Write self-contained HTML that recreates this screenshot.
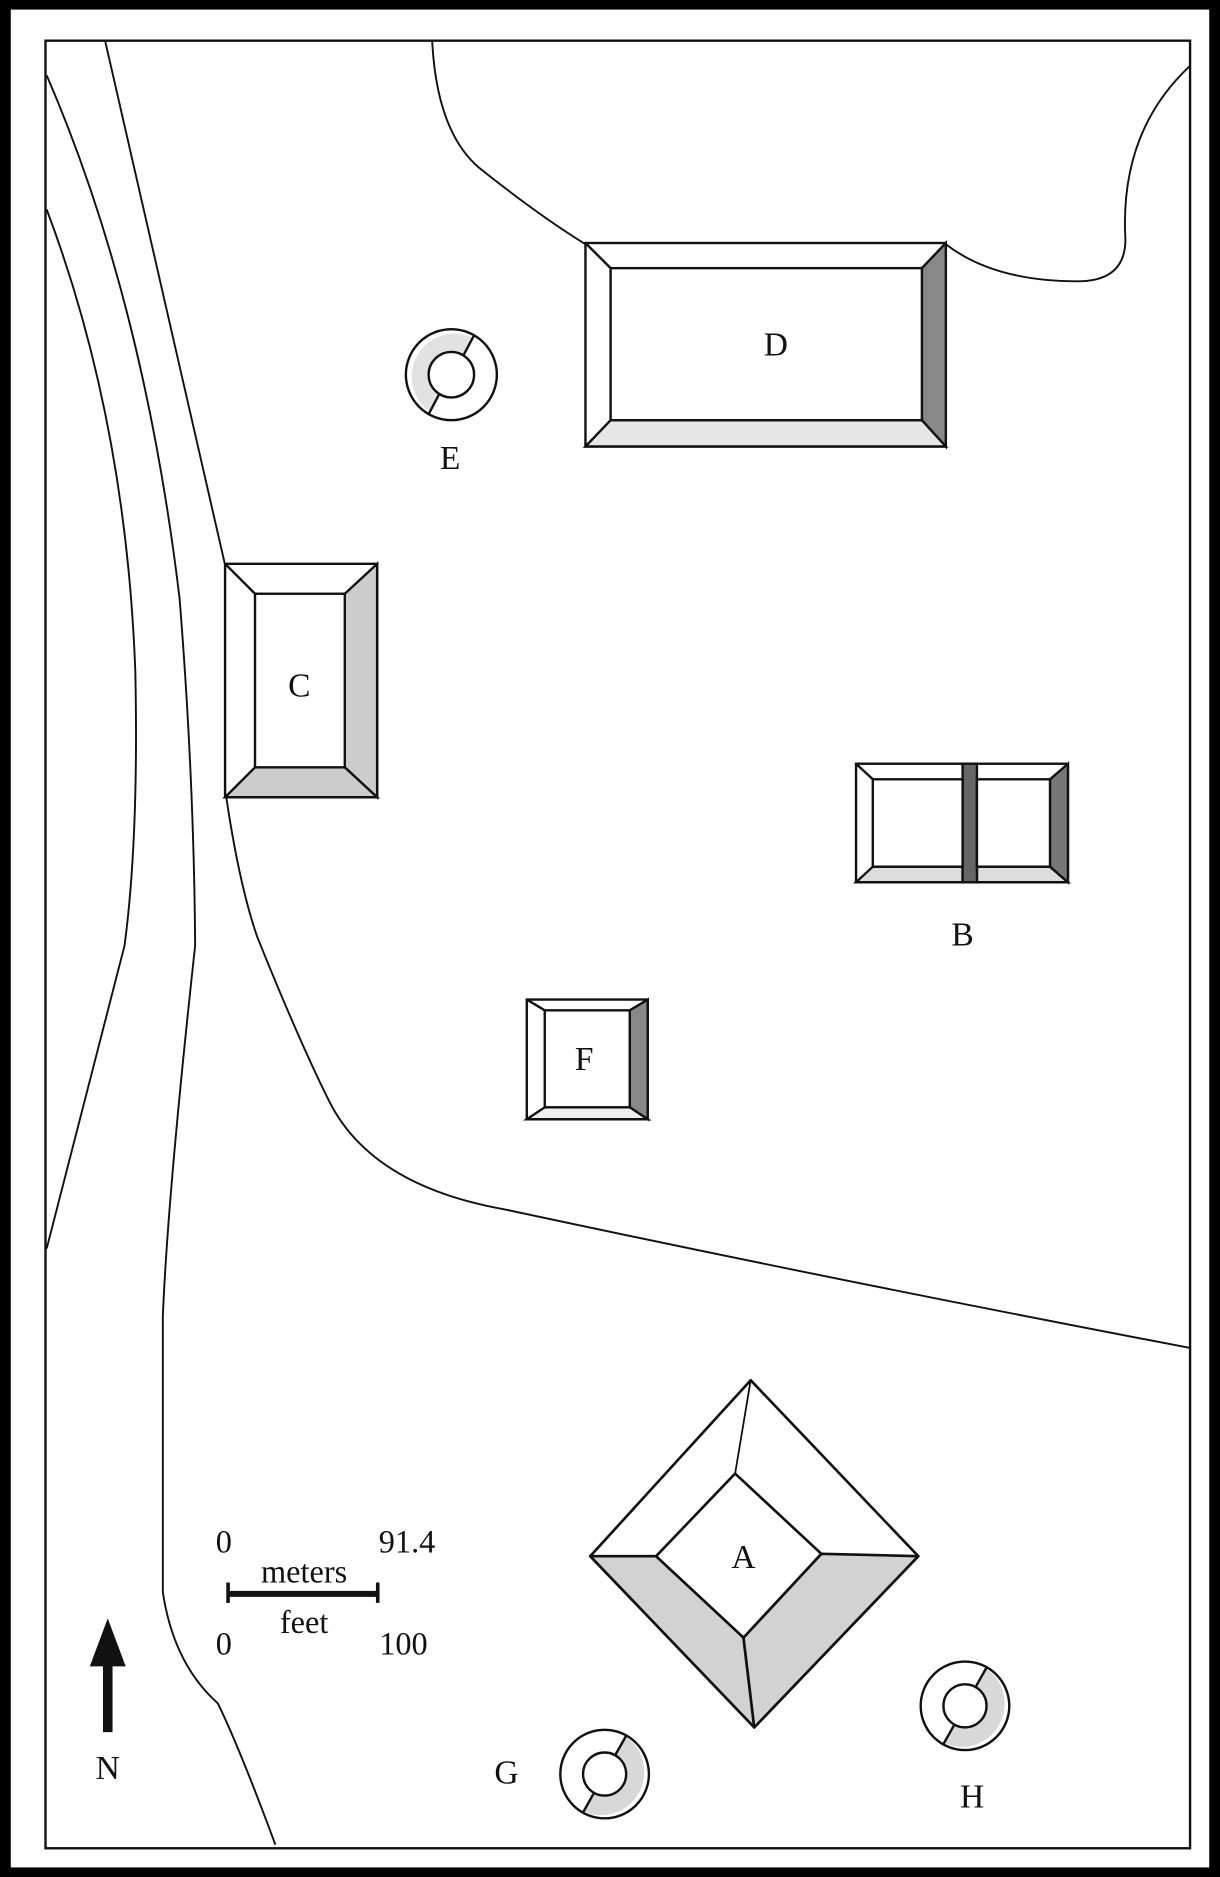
<!DOCTYPE html>
<html><head><meta charset="utf-8"><style>
html,body{margin:0;padding:0;background:#000;}
svg{display:block;}
text{font-family:"Liberation Serif",serif;fill:#111;}
</style></head><body>
<svg width="1220" height="1877" viewBox="0 0 1019 1568" preserveAspectRatio="none" xmlns="http://www.w3.org/2000/svg">
<rect x="0" y="0" width="1019" height="1568" fill="#000"/>
<rect x="9" y="8" width="1001" height="1552" fill="#fff"/>
<rect x="38" y="34" width="956" height="1510" fill="none" stroke="#111" stroke-width="2"/>
<g fill="none" stroke="#111" stroke-width="1.6">
<path d="M39,63 Q120,250 150,500 Q162,650 163,790 Q140,1000 136,1100 L136,1330 Q145,1390 182,1423 Q200,1460 230,1541"/>
<path d="M88,35 Q145,280 188,472 L189,666 Q200,740 215,783 Q250,870 275,920 Q310,990 420,1010 Q700,1070 994,1126"/>
<path d="M39,175 Q105,350 113,560 Q116,700 104,790 L39,1043"/>
<path d="M361,35 Q365,110 400,140 Q450,180 489,204 L790,204 Q830,235 900,235 Q940,235 940,200 Q935,110 994,55"/>
</g>
<!-- D -->
<g stroke="#111" stroke-width="2">
<rect x="489" y="203" width="301" height="170" fill="#fff"/>
<polygon points="790,203 770,224 770,351 790,373" fill="#888"/>
<polygon points="489,373 510,351 770,351 790,373" fill="#e6e6e6"/>
<rect x="510" y="224" width="260" height="127" fill="#fff"/>
<line x1="489" y1="203" x2="510" y2="224"/>
</g>
<text x="648" y="297" font-size="28" text-anchor="middle">D</text>
<!-- C -->
<g stroke="#111" stroke-width="2">
<rect x="188" y="471" width="127" height="195" fill="#fff"/>
<polygon points="315,471 288,496 288,641 315,666" fill="#ccc"/>
<polygon points="188,666 213,641 288,641 315,666" fill="#ccc"/>
<rect x="213" y="496" width="75" height="145" fill="#fff"/>
<line x1="188" y1="471" x2="213" y2="496"/>
</g>
<text x="250" y="582" font-size="28" text-anchor="middle">C</text>
<!-- B -->
<g stroke="#111" stroke-width="2">
<rect x="715" y="638" width="177" height="99" fill="#fff"/>
<polygon points="715,737 729,724 804,724 804,737" fill="#ddd"/>
<polygon points="816,737 816,724 877,724 892,737" fill="#ddd"/>
<rect x="804" y="638" width="12" height="99" fill="#666"/>
<polygon points="892,638 877,651 877,724 892,737" fill="#777"/>
<rect x="729" y="651" width="75" height="73" fill="#fff"/>
<rect x="816" y="651" width="61" height="73" fill="#fff"/>
<line x1="715" y1="638" x2="729" y2="651"/>
</g>
<text x="804" y="790" font-size="28" text-anchor="middle">B</text>
<!-- F -->
<g stroke="#111" stroke-width="2">
<rect x="440" y="835" width="101" height="100" fill="#fff"/>
<polygon points="541,835 526,844 526,925 541,935" fill="#888"/>
<polygon points="440,935 455,925 526,925 541,935" fill="#eee"/>
<rect x="455" y="844" width="71" height="81" fill="#fff"/>
<line x1="440" y1="835" x2="455" y2="844"/>
</g>
<text x="488" y="894" font-size="28" text-anchor="middle">F</text>
<!-- A -->
<g stroke="#111" stroke-width="2.2" stroke-linejoin="round">
<polygon points="627,1153 767,1300 630,1443 493,1300" fill="#fff"/>
<polygon points="493,1300 548,1300 621,1368 630,1443" fill="#d2d2d2"/>
<polygon points="767,1300 686,1298 621,1368 630,1443" fill="#d2d2d2"/>
<polygon points="614,1231 686,1298 621,1368 548,1300" fill="#fff"/>
<line x1="627" y1="1153" x2="614" y2="1231" stroke-width="1.5"/>
<line x1="621" y1="1368" x2="630" y2="1443" stroke-width="1.5"/>
</g>
<text x="621" y="1310" font-size="28" text-anchor="middle">A</text>
<!-- rings -->
<g stroke="#111" stroke-width="2">
<g transform="translate(377,313)">
<circle r="38" fill="#fff"/><path d="M18,-31 A36,36 0 0 1 -18,31 L-9,16 A18,18 0 0 0 9,-16 Z" fill="#e2e2e2" stroke="none" transform="rotate(180)"/>
<circle r="19" fill="#fff"/><line x1="10" y1="-16" x2="19" y2="-33"/><line x1="-10" y1="16" x2="-19" y2="33"/></g>
<g transform="translate(505,1482)">
<circle r="37" fill="#fff"/><path d="M18,-31 A36,36 0 0 1 -18,31 L-9,16 A18,18 0 0 0 9,-16 Z" fill="#d8d8d8" stroke="none"/>
<circle r="18" fill="#fff"/><line x1="9" y1="-16" x2="18" y2="-32"/><line x1="-9" y1="16" x2="-18" y2="32"/></g>
<g transform="translate(806,1425)">
<circle r="37" fill="#fff"/><path d="M18,-31 A36,36 0 0 1 -18,31 L-9,16 A18,18 0 0 0 9,-16 Z" fill="#d8d8d8" stroke="none"/>
<circle r="18" fill="#fff"/><line x1="9" y1="-16" x2="18" y2="-32"/><line x1="-9" y1="16" x2="-18" y2="32"/></g>
</g>
<text x="376" y="392" font-size="28" text-anchor="middle">E</text>
<text x="423" y="1490" font-size="28" text-anchor="middle">G</text>
<text x="812" y="1510" font-size="28" text-anchor="middle">H</text>
<!-- scale -->
<text x="187" y="1297" font-size="27" text-anchor="middle">0</text>
<text x="340" y="1297" font-size="27" text-anchor="middle">91.4</text>
<text x="254" y="1322" font-size="27" text-anchor="middle">meters</text>
<rect x="190" y="1329" width="126" height="5" fill="#111"/>
<rect x="189" y="1322" width="3" height="17" fill="#111"/>
<rect x="314" y="1322" width="3" height="17" fill="#111"/>
<text x="254" y="1364" font-size="27" text-anchor="middle">feet</text>
<text x="187" y="1382" font-size="27" text-anchor="middle">0</text>
<text x="337" y="1382" font-size="27" text-anchor="middle">100</text>
<!-- north -->
<rect x="86" y="1385" width="8" height="62" fill="#111"/>
<polygon points="90,1352 75,1392 105,1392" fill="#111"/>
<text x="90" y="1486" font-size="28" text-anchor="middle">N</text>
</svg>
</body></html>
